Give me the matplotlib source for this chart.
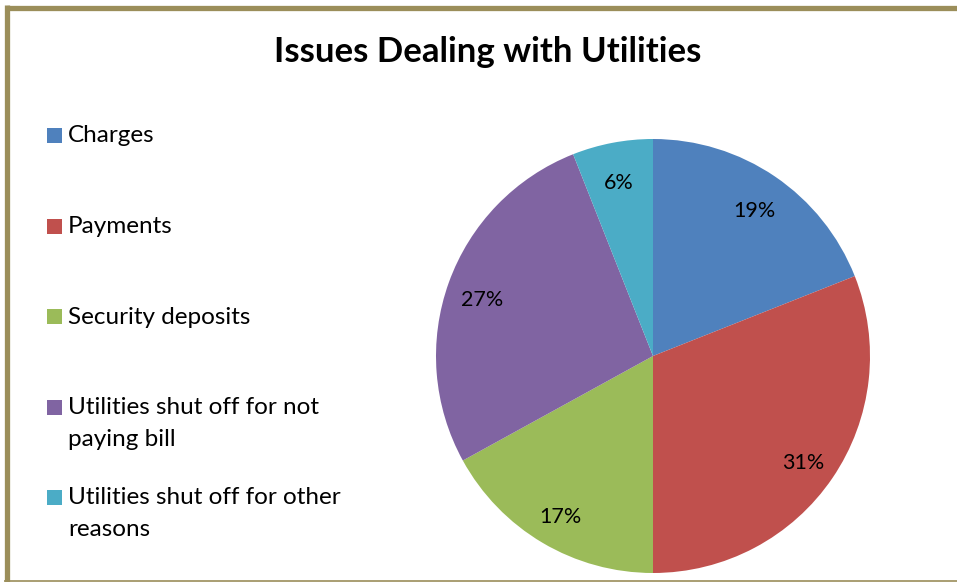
import matplotlib
matplotlib.use("Agg")
import matplotlib.pyplot as plt
from matplotlib.lines import Line2D
from matplotlib.patches import Rectangle
from matplotlib.transforms import offset_copy

plt.rcParams['font.family'] = ['Lato', 'DejaVu Sans']

title = "Issues Dealing with Utilities"
categories = ["Charges", "Payments", "Security deposits",
              "Utilities shut off for not\npaying bill",
              "Utilities shut off for other\nreasons"]
values = [19, 31, 17, 27, 6]
colors = ["#4F81BD", "#C0504D", "#9BBB59", "#8064A2", "#4BACC6"]

W, H = 957, 582
fig = plt.figure(figsize=(W / 100, H / 100), dpi=100)
fig.patch.set_facecolor("white")

# pie axes
cx, cy, r = 653, 356, 217
ax = fig.add_axes([(cx - r) / W, (H - cy - r) / H, 2 * r / W, 2 * r / H])
wedges, texts, autotexts = ax.pie(
    values, colors=colors, startangle=90, counterclock=False,
    autopct=lambda p: f"{p:.0f}%", pctdistance=0.835,
    textprops=dict(fontsize=15.5, color="black"),
    wedgeprops=dict(linewidth=0))
shift = offset_copy(ax.transData, fig=fig, x=0, y=-3, units="dots")
for t in autotexts:
    t.set_va("center_baseline")
    t.set_transform(shift)
ax.set_xlim(-1, 1)
ax.set_ylim(-1, 1)
ax.set_aspect("equal")
ax.axis("off")

# title
fig.text(487.5 / W, 1 - 52 / H, title, ha="center", va="center",
         fontsize=25, fontweight="bold")

# legend
y0, step, line_step = 135.5, 90.5, 31.5
for i, (lab, col) in enumerate(zip(categories, colors)):
    y = y0 + i * step
    fig.patches.append(Rectangle((47 / W, 1 - (y + 7.5) / H), 15 / W, 15 / H,
                                 transform=fig.transFigure, facecolor=col,
                                 edgecolor="none"))
    for k, line in enumerate(lab.split("\n")):
        fig.text(68 / W, 1 - (y + 7 + k * line_step) / H, line,
                 ha="left", va="baseline", fontsize=17.5)

# border
bc = "#9B8E5A"
fig.add_artist(Line2D([6.5 / W, 1], [1 - 7.5 / H, 1 - 7.5 / H],
                      transform=fig.transFigure, color=bc, linewidth=3.8,
                      solid_capstyle="butt"))
fig.add_artist(Line2D([6.5 / W, 6.5 / W], [0, 1 - 5 / H],
                      transform=fig.transFigure, color=bc, linewidth=3.8,
                      solid_capstyle="butt"))
fig.add_artist(Line2D([4 / W, 1], [0.8 / H, 0.8 / H],
                      transform=fig.transFigure, color=bc, linewidth=1.2,
                      solid_capstyle="butt"))

fig.savefig("out.png", dpi=100)
